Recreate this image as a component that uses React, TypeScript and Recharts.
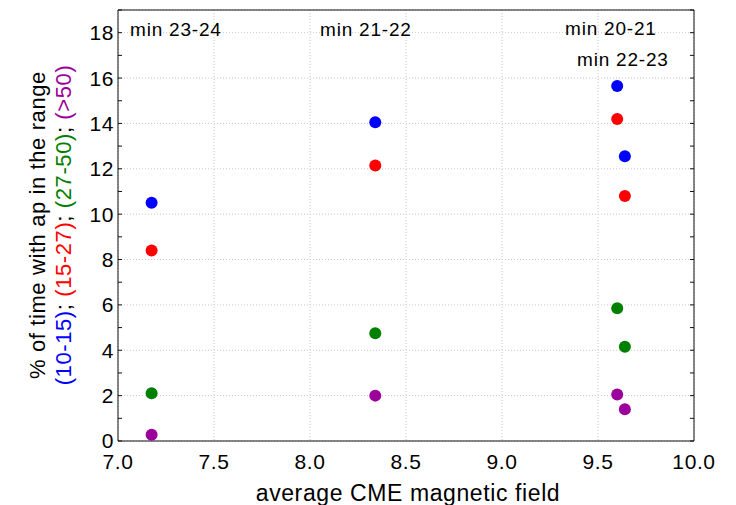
import React from 'react';
import { ScatterChart, Scatter, XAxis, YAxis, CartesianGrid } from 'recharts';

const xValues = [7.175, 8.34, 9.6, 9.64];
const range10to15 = [10.5, 14.05, 15.65, 12.55];
const range15to27 = [8.4, 12.15, 14.2, 10.8];
const range27to50 = [2.1, 4.75, 5.85, 4.15];
const rangeOver50 = [0.28, 2.0, 2.05, 1.4];

const xMajorTicks = [7.0, 7.5, 8.0, 8.5, 9.0, 9.5, 10.0];
const yMajorTicks = [0, 2, 4, 6, 8, 10, 12, 14, 16, 18];
const xMinorTicks = Array.from({ length: 31 }, (_, i) => Math.round((7 + i * 0.1) * 10) / 10);
const yMinorTicks = Array.from({ length: 20 }, (_, i) => i);

const annotations = [
  { text: 'min 23-24', x: 122, y: 28 },
  { text: 'min 21-22', x: 312, y: 28 },
  { text: 'min 20-21', x: 557, y: 27 },
  { text: 'min 22-23', x: 569, y: 58 },
];

const series = [
  { name: '(10-15)', values: range10to15, color: '#0000ff' },
  { name: '(15-27)', values: range15to27, color: '#ff0000' },
  { name: '(27-50)', values: range27to50, color: '#008000' },
  { name: '(>50)', values: rangeOver50, color: '#9c009c' },
];

const FONT = '"Liberation Sans", Arial, sans-serif';
const W = 728;
const H = 497;

const empty = () => '';

export default function App() {
  return (
    <div style={{ position: 'relative', width: W, height: H }}>
      <ScatterChart width={W} height={H} margin={{ top: 2, right: 42, left: 50, bottom: 24 }}>
        <CartesianGrid stroke="#c8c8c8" strokeDasharray="1 2" />
        <XAxis
          type="number"
          dataKey="x"
          domain={[7, 10]}
          ticks={xMajorTicks}
          tickFormatter={(v: number) => v.toFixed(1)}
          tickLine={false}
          tickMargin={7}
          axisLine={{ stroke: '#111' }}
          height={40}
          allowDataOverflow
          tick={{ fontSize: 21, fill: '#000', fontFamily: FONT, letterSpacing: 0.6 }}
        />
        <XAxis
          xAxisId="xminor"
          type="number"
          domain={[7, 10]}
          ticks={xMinorTicks}
          mirror
          axisLine={false}
          tickSize={4}
          tickLine={{ stroke: '#111' }}
          tickFormatter={empty}
          height={10}
          allowDataOverflow
        />
        <XAxis
          xAxisId="xtop"
          orientation="top"
          type="number"
          domain={[7, 10]}
          ticks={xMinorTicks}
          mirror
          axisLine={{ stroke: '#111' }}
          tickSize={4}
          tickLine={{ stroke: '#111' }}
          tickFormatter={empty}
          height={10}
          allowDataOverflow
        />
        <YAxis
          type="number"
          dataKey="y"
          domain={[0, 19]}
          ticks={yMajorTicks}
          tickLine={false}
          tickSize={2}
          axisLine={{ stroke: '#111' }}
          width={60}
          allowDataOverflow
          tick={{ fontSize: 21, fill: '#000', fontFamily: FONT, letterSpacing: 0.6 }}
        />
        <YAxis
          yAxisId="yminor"
          type="number"
          domain={[0, 19]}
          ticks={yMinorTicks}
          mirror
          axisLine={false}
          tickSize={4}
          tickLine={{ stroke: '#111' }}
          tickFormatter={empty}
          width={10}
          allowDataOverflow
        />
        <YAxis
          yAxisId="yright"
          orientation="right"
          type="number"
          domain={[0, 19]}
          ticks={yMinorTicks}
          mirror
          axisLine={{ stroke: '#111' }}
          tickSize={4}
          tickLine={{ stroke: '#111' }}
          tickFormatter={empty}
          width={10}
          allowDataOverflow
        />
        {series.map((s) => (
          <Scatter
            key={s.name}
            name={s.name}
            data={xValues.map((x, i) => ({ x, y: s.values[i] }))}
            fill={s.color}
            isAnimationActive={false}
            shape={(p: any) => <circle cx={p.cx} cy={p.cy} r={6} fill={s.color} />}
          />
        ))}
      </ScatterChart>
      <svg
        width={W}
        height={H}
        style={{ position: 'absolute', left: 0, top: 0, overflow: 'visible', pointerEvents: 'none' }}
      >
        {annotations.map((a) => (
          <text key={a.text} x={a.x} y={a.y} fontSize={19} fontFamily={FONT} fill="#000" letterSpacing={0.8}>
            {a.text}
          </text>
        ))}
        <text x={400} y={493} fontSize={23} fontFamily={FONT} fill="#000" textAnchor="middle" letterSpacing={0.6}>
          average CME magnetic field
        </text>
        <text
          x={37}
          y={217}
          fontSize={22}
          fontFamily={FONT}
          fill="#000"
          textAnchor="middle"
          letterSpacing={0.6}
          transform="rotate(-90 37 217)"
        >
          % of time with ap in the range
        </text>
        <text
          x={63}
          y={217}
          fontSize={22}
          fontFamily={FONT}
          textAnchor="middle"
          letterSpacing={0.6}
          transform="rotate(-90 63 217)"
        >
          {series.map((s, i) => (
            <React.Fragment key={s.name}>
              <tspan fill={s.color}>{s.name}</tspan>
              {i < series.length - 1 ? <tspan fill="#000">; </tspan> : null}
            </React.Fragment>
          ))}
        </text>
      </svg>
    </div>
  );
}
